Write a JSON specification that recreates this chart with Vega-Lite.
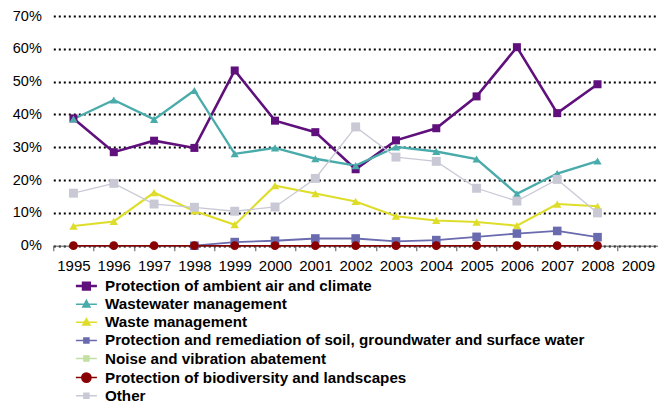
{
  "$schema": "https://vega.github.io/schema/vega-lite/v6.json",
  "autosize": {"type": "none"},
  "width": 604.7,
  "height": 229.7,
  "padding": {"left": 53.3, "top": 16, "right": 0, "bottom": 155.3},
  "background": "white",
  "config": {
    "view": {"stroke": null},
    "font": "Liberation Sans"
  },
  "data": {
    "values": [
      {"year": "1995", "Protection of ambient air and climate": 0.388, "Wastewater management": 0.386, "Waste management": 0.060, "Protection and remediation of soil, groundwater and surface water": null, "Protection of biodiversity and landscapes": 0, "Other": 0.160},
      {"year": "1996", "Protection of ambient air and climate": 0.285, "Wastewater management": 0.444, "Waste management": 0.074, "Protection and remediation of soil, groundwater and surface water": null, "Protection of biodiversity and landscapes": 0, "Other": 0.190},
      {"year": "1997", "Protection of ambient air and climate": 0.320, "Wastewater management": 0.385, "Waste management": 0.162, "Protection and remediation of soil, groundwater and surface water": null, "Protection of biodiversity and landscapes": 0, "Other": 0.127},
      {"year": "1998", "Protection of ambient air and climate": 0.298, "Wastewater management": 0.473, "Waste management": 0.106, "Protection and remediation of soil, groundwater and surface water": 0, "Protection of biodiversity and landscapes": 0, "Other": 0.117},
      {"year": "1999", "Protection of ambient air and climate": 0.534, "Wastewater management": 0.280, "Waste management": 0.064, "Protection and remediation of soil, groundwater and surface water": 0.011, "Protection of biodiversity and landscapes": 0, "Other": 0.105},
      {"year": "2000", "Protection of ambient air and climate": 0.381, "Wastewater management": 0.298, "Waste management": 0.183, "Protection and remediation of soil, groundwater and surface water": 0.015, "Protection of biodiversity and landscapes": 0, "Other": 0.118},
      {"year": "2001", "Protection of ambient air and climate": 0.346, "Wastewater management": 0.265, "Waste management": 0.159, "Protection and remediation of soil, groundwater and surface water": 0.022, "Protection of biodiversity and landscapes": 0, "Other": 0.205},
      {"year": "2002", "Protection of ambient air and climate": 0.233, "Wastewater management": 0.244, "Waste management": 0.135, "Protection and remediation of soil, groundwater and surface water": 0.022, "Protection of biodiversity and landscapes": 0, "Other": 0.362},
      {"year": "2003", "Protection of ambient air and climate": 0.321, "Wastewater management": 0.301, "Waste management": 0.090, "Protection and remediation of soil, groundwater and surface water": 0.013, "Protection of biodiversity and landscapes": 0, "Other": 0.270},
      {"year": "2004", "Protection of ambient air and climate": 0.358, "Wastewater management": 0.287, "Waste management": 0.077, "Protection and remediation of soil, groundwater and surface water": 0.017, "Protection of biodiversity and landscapes": 0, "Other": 0.257},
      {"year": "2005", "Protection of ambient air and climate": 0.455, "Wastewater management": 0.264, "Waste management": 0.072, "Protection and remediation of soil, groundwater and surface water": 0.027, "Protection of biodiversity and landscapes": 0, "Other": 0.175},
      {"year": "2006", "Protection of ambient air and climate": 0.605, "Wastewater management": 0.158, "Waste management": 0.061, "Protection and remediation of soil, groundwater and surface water": 0.037, "Protection of biodiversity and landscapes": 0, "Other": 0.136},
      {"year": "2007", "Protection of ambient air and climate": 0.404, "Wastewater management": 0.220, "Waste management": 0.127, "Protection and remediation of soil, groundwater and surface water": 0.045, "Protection of biodiversity and landscapes": 0, "Other": 0.202},
      {"year": "2008", "Protection of ambient air and climate": 0.492, "Wastewater management": 0.258, "Waste management": 0.120, "Protection and remediation of soil, groundwater and surface water": 0.026, "Protection of biodiversity and landscapes": 0, "Other": 0.100}
    ]
  },
  "transform": [
    {"fold": ["Protection of ambient air and climate", "Wastewater management", "Waste management", "Protection and remediation of soil, groundwater and surface water", "Protection of biodiversity and landscapes", "Other"], "as": ["series", "value"]}
  ],
  "encoding": {
    "x": {
      "field": "year", "type": "ordinal",
      "scale": {"type": "band", "domain": ["1995","1996","1997","1998","1999","2000","2001","2002","2003","2004","2005","2006","2007","2008","2009"], "paddingInner": 0, "paddingOuter": 0},
      "axis": {"title": null, "labelAngle": 0, "tickBand": "extent", "tickSize": 5, "tickColor": "#555555", "domainColor": "#555555", "domainWidth": 1, "labelFontSize": 15, "labelColor": "#000000", "labelPadding": 8, "grid": false}
    },
    "y": {
      "field": "value", "type": "quantitative",
      "scale": {"domain": [0, 0.7], "nice": false, "zero": true},
      "axis": {"title": null, "format": ".0%", "values": [0, 0.1, 0.2, 0.3, 0.4, 0.5, 0.6, 0.7], "ticks": false, "domain": false, "labelPadding": 12, "labelFontSize": 14.5, "labelColor": "#000000", "grid": true, "gridColor": "#000000", "gridDash": [2, 3], "gridWidth": 2}
    },
    "color": {
      "field": "series", "type": "nominal",
      "scale": {
        "domain": ["Protection of ambient air and climate", "Wastewater management", "Waste management", "Protection and remediation of soil, groundwater and surface water", "Noise and vibration abatement", "Protection of biodiversity and landscapes", "Other"],
        "range": ["#5f107c", "#4aabab", "#dede2a", "#6a6aae", "#c3e0a3", "#880000", "#c9c9d6"]
      },
      "legend": {
        "orient": "none", "legendX": 25.5, "legendY": 262.5, "title": null, "padding": 0,
        "direction": "vertical", "rowPadding": 2.1,
        "labelFont": "Liberation Sans", "labelFontWeight": "bold", "labelFontSize": 15.2, "labelColor": "#000000", "labelLimit": 700, "labelOffset": 11,
        "symbolSize": 441, "symbolStrokeWidth": 1.5,
        "encode": {
          "symbols": {
            "update": {
              "shape": {"signal": "datum.value == 'Protection of ambient air and climate' ? 'M-1,0H1M-0.32,-0.32H0.32V0.32H-0.32Z' : (datum.value == 'Wastewater management' || datum.value == 'Waste management') ? 'M-1,0H1M0,-0.36L0.34,0.26H-0.34Z' : datum.value == 'Protection of biodiversity and landscapes' ? 'M-1,0H1M-0.44,0A0.44,0.44 0 1,0 0.44,0A0.44,0.44 0 1,0 -0.44,0Z' : 'M-1,0H1M-0.24,-0.24H0.24V0.24H-0.24Z'"},
              "fill": {"scale": "color", "field": "value"},
              "stroke": {"scale": "color", "field": "value"},
              "strokeWidth": {"signal": "datum.value == 'Protection of ambient air and climate' ? 2.5 : 1.5"},
              "opacity": {"value": 1},
              "fillOpacity": {"value": 1}
            }
          }
        }
      }
    }
  },
  "layer": [
    {
      "mark": {"type": "line", "interpolate": "linear"},
      "encoding": {
        "strokeWidth": {
          "field": "series", "type": "nominal",
          "scale": {"domain": ["Protection of ambient air and climate", "Wastewater management", "Waste management", "Protection and remediation of soil, groundwater and surface water", "Protection of biodiversity and landscapes", "Other"], "range": [2.6, 1.3, 1.3, 1.3, 1.3, 1.3]},
          "legend": null
        }
      }
    },
    {
      "mark": {"type": "point", "filled": true, "opacity": 1},
      "encoding": {
        "shape": {
          "field": "series", "type": "nominal",
          "scale": {"domain": ["Protection of ambient air and climate", "Wastewater management", "Waste management", "Protection and remediation of soil, groundwater and surface water", "Protection of biodiversity and landscapes", "Other"], "range": ["square", "triangle-up", "triangle-up", "square", "circle", "square"]},
          "legend": null
        },
        "size": {
          "field": "series", "type": "nominal",
          "scale": {"domain": ["Protection of ambient air and climate", "Wastewater management", "Waste management", "Protection and remediation of soil, groundwater and surface water", "Protection of biodiversity and landscapes", "Other"], "range": [64, 80, 80, 28, 64, 28]},
          "legend": null
        }
      }
    }
  ]
}
